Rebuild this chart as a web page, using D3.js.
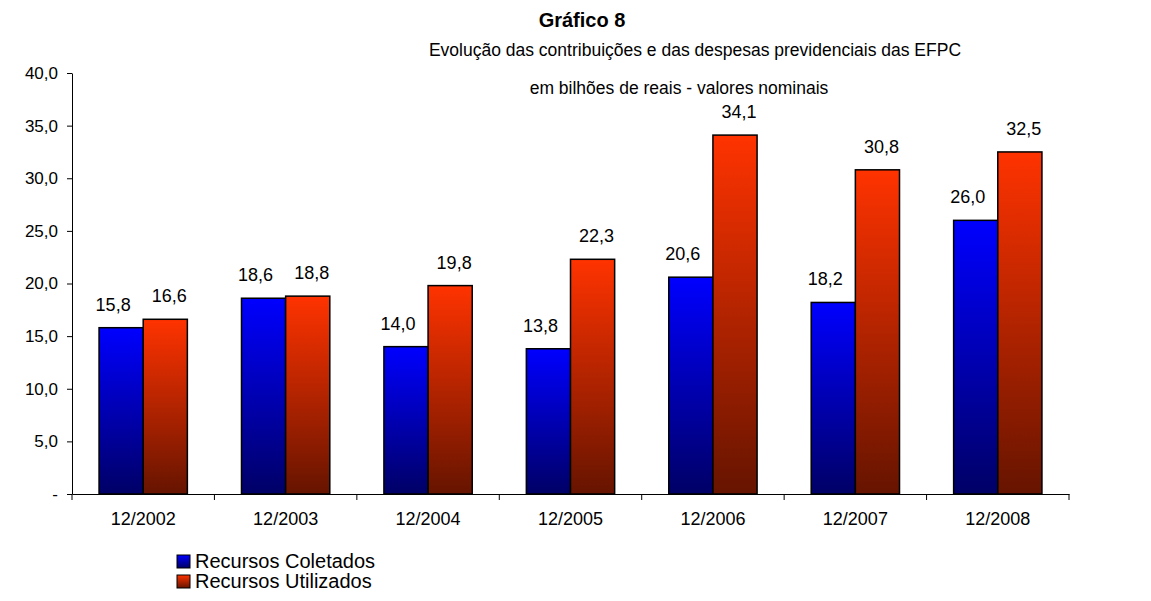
<!DOCTYPE html>
<html><head><meta charset="utf-8">
<script src="https://cdn.jsdelivr.net/npm/d3@7"></script>
<style>body{margin:0;background:#fff}text{font-family:Arial,"Liberation Sans",sans-serif}</style>
</head><body>
<svg id="chart" width="1151" height="601"></svg>
<script>
const categories = ["12/2002","12/2003","12/2004","12/2005","12/2006","12/2007","12/2008"]
const coletados = [15.8, 18.6, 14.0, 13.8, 20.6, 18.2, 26.0]
const utilizados = [16.6, 18.8, 19.8, 22.3, 34.1, 30.8, 32.5]
const yTicks = [0, 5, 10, 15, 20, 25, 30, 35, 40]
const series = [
    {name: "Recursos Coletados", values: coletados, id: "gBlue", top: "#0000ff", bottom: "#000066"},
    {name: "Recursos Utilizados", values: utilizados, id: "gRed", top: "#ff3300", bottom: "#661400"}
]

const svg = d3.select("#chart")
const fmt = v => v.toFixed(1).replace(".", ",")

const x = d3.scaleBand().domain(categories).range([72, 1069])
const y = d3.scaleLinear().domain([0, 40]).range([494, 73])
const barW = x.bandwidth() * 0.31

const defs = svg.append("defs")
series.forEach(s => {
    const g = defs.append("linearGradient").attr("id", s.id)
        .attr("x1", 0).attr("y1", 0).attr("x2", 0).attr("y2", 1)
    g.append("stop").attr("offset", "0%").attr("stop-color", s.top)
    g.append("stop").attr("offset", "100%").attr("stop-color", s.bottom)
})

// titles
svg.append("text").attr("x", 582).attr("y", 27).attr("text-anchor", "middle")
    .style("font-size", "20px").style("font-weight", "bold").text("Gráfico 8")
svg.append("text").attr("x", 695).attr("y", 56).attr("text-anchor", "middle")
    .style("font-size", "17.5px").text("Evolução das contribuições e das despesas previdenciais das EFPC")
svg.append("text").attr("x", 679).attr("y", 94).attr("text-anchor", "middle")
    .style("font-size", "17.5px").text("em bilhões de reais - valores nominais")

// axes
const yAxis = svg.append("g").attr("transform", "translate(72,0)")
    .call(d3.axisLeft(y).tickValues(yTicks).tickSize(5).tickSizeOuter(0)
        .tickFormat(d => d === 0 ? "-" : fmt(d)))
yAxis.selectAll("text").style("font-size", "17px").attr("dx", "-6").attr("fill", "#000")

const xAxis = svg.append("g").attr("transform", "translate(0,494)")
    .call(d3.axisBottom(x).tickSize(0).tickSizeOuter(0))
xAxis.selectAll("text").style("font-size", "18px").attr("dy", "1.55em").attr("fill", "#000")
xAxis.selectAll(".tk").data(d3.range(categories.length + 1)).enter().append("line")
    .attr("x1", i => 72 + i * x.step()).attr("x2", i => 72 + i * x.step())
    .attr("y1", 0).attr("y2", 6).attr("stroke", "#000")
svg.selectAll(".domain").attr("stroke", "#000")

// bars
series.forEach((s, si) => {
    const off = x.bandwidth() / 2 - barW + si * barW
    svg.append("g").selectAll("rect").data(s.values).enter().append("rect")
        .attr("x", (d, i) => x(categories[i]) + off)
        .attr("y", d => y(d))
        .attr("width", barW)
        .attr("height", d => 494 - y(d))
        .attr("fill", `url(#${s.id})`)
        .attr("stroke", "#000").attr("stroke-width", 1.5)
    svg.append("g").selectAll("text").data(s.values).enter().append("text")
        .attr("x", (d, i) => x(categories[i]) + off + barW / 2 + (si === 0 ? -8 : 4))
        .attr("y", d => y(d) - 17)
        .attr("text-anchor", "middle").style("font-size", "18px")
        .text(fmt)
})

// legend
const leg = svg.append("g").attr("transform", "translate(177,561)")
series.forEach((s, i) => {
    leg.append("rect").attr("x", 0).attr("y", i * 20 - 6).attr("width", 13).attr("height", 13)
        .attr("fill", `url(#${s.id})`).attr("stroke", "#000")
    leg.append("text").attr("x", 18).attr("y", i * 20 + 7).style("font-size", "20px").text(s.name)
})
</script>
</body></html>
